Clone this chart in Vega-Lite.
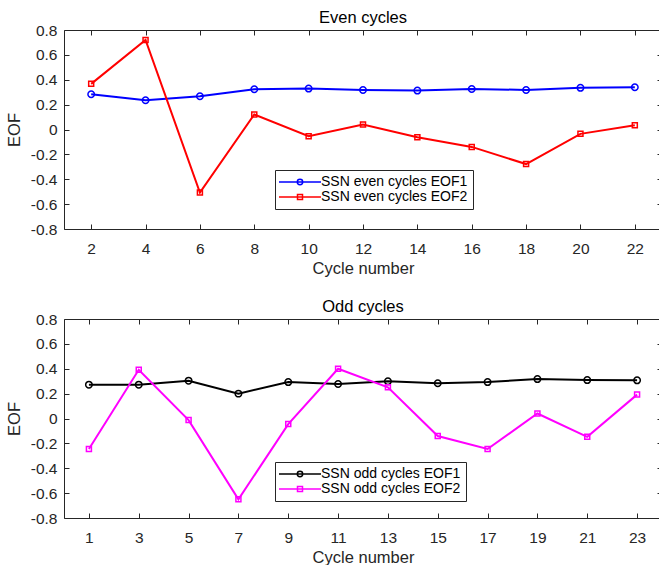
{
  "$schema": "https://vega.github.io/schema/vega-lite/v6.json",
  "background": "white",
  "padding": {"left": 5, "top": 9, "right": 0, "bottom": 0},
  "spacing": 20,
  "config": {
    "font": "Liberation Sans",
    "view": {"stroke": "#262626", "strokeWidth": 1},
    "axis": {
      "domain": false, "grid": false,
      "tickColor": "#262626", "tickSize": -5, "tickWidth": 1,
      "labelColor": "#262626", "labelFontSize": 15.5, "labelFont": "Liberation Sans",
      "titleFontSize": 16.5, "titleFontWeight": "normal", "titleColor": "#262626", "titleFont": "Liberation Sans"
    },
    "title": {"fontSize": 16.5, "fontWeight": "normal", "color": "#000000", "font": "Liberation Sans", "anchor": "middle", "offset": -3},
    "legend": {
      "orient": "none", "title": null,
      "labelFontSize": 14, "labelColor": "#000000", "labelFont": "Liberation Sans", "labelOffset": 14,
      "padding": 5, "rowPadding": 1,
      "strokeColor": "#262626", "fillColor": "white",
      "symbolSize": 100, "symbolOffset": 13, "symbolStrokeWidth": 1.5
    }
  },
  "resolve": {"scale": {"color": "independent", "shape": "independent", "size": "independent", "x": "independent"}, "legend": {"color": "independent"}},
  "datasets": {
    "even": [
      {"cycle": 2, "series": "SSN even cycles EOF1", "value": 0.283},
      {"cycle": 4, "series": "SSN even cycles EOF1", "value": 0.235},
      {"cycle": 6, "series": "SSN even cycles EOF1", "value": 0.267},
      {"cycle": 8, "series": "SSN even cycles EOF1", "value": 0.324},
      {"cycle": 10, "series": "SSN even cycles EOF1", "value": 0.329},
      {"cycle": 12, "series": "SSN even cycles EOF1", "value": 0.318},
      {"cycle": 14, "series": "SSN even cycles EOF1", "value": 0.313},
      {"cycle": 16, "series": "SSN even cycles EOF1", "value": 0.326},
      {"cycle": 18, "series": "SSN even cycles EOF1", "value": 0.318},
      {"cycle": 20, "series": "SSN even cycles EOF1", "value": 0.335},
      {"cycle": 22, "series": "SSN even cycles EOF1", "value": 0.340},
      {"cycle": 2, "series": "SSN even cycles EOF2", "value": 0.367},
      {"cycle": 4, "series": "SSN even cycles EOF2", "value": 0.720},
      {"cycle": 6, "series": "SSN even cycles EOF2", "value": -0.507},
      {"cycle": 8, "series": "SSN even cycles EOF2", "value": 0.121},
      {"cycle": 10, "series": "SSN even cycles EOF2", "value": -0.054},
      {"cycle": 12, "series": "SSN even cycles EOF2", "value": 0.040},
      {"cycle": 14, "series": "SSN even cycles EOF2", "value": -0.062},
      {"cycle": 16, "series": "SSN even cycles EOF2", "value": -0.140},
      {"cycle": 18, "series": "SSN even cycles EOF2", "value": -0.278},
      {"cycle": 20, "series": "SSN even cycles EOF2", "value": -0.035},
      {"cycle": 22, "series": "SSN even cycles EOF2", "value": 0.035}
    ],
    "odd": [
      {"cycle": 1, "series": "SSN odd cycles EOF1", "value": 0.272},
      {"cycle": 3, "series": "SSN odd cycles EOF1", "value": 0.272},
      {"cycle": 5, "series": "SSN odd cycles EOF1", "value": 0.304},
      {"cycle": 7, "series": "SSN odd cycles EOF1", "value": 0.200},
      {"cycle": 9, "series": "SSN odd cycles EOF1", "value": 0.293},
      {"cycle": 11, "series": "SSN odd cycles EOF1", "value": 0.277},
      {"cycle": 13, "series": "SSN odd cycles EOF1", "value": 0.299},
      {"cycle": 15, "series": "SSN odd cycles EOF1", "value": 0.283},
      {"cycle": 17, "series": "SSN odd cycles EOF1", "value": 0.293},
      {"cycle": 19, "series": "SSN odd cycles EOF1", "value": 0.317},
      {"cycle": 21, "series": "SSN odd cycles EOF1", "value": 0.309},
      {"cycle": 23, "series": "SSN odd cycles EOF1", "value": 0.307},
      {"cycle": 1, "series": "SSN odd cycles EOF2", "value": -0.245},
      {"cycle": 3, "series": "SSN odd cycles EOF2", "value": 0.392},
      {"cycle": 5, "series": "SSN odd cycles EOF2", "value": -0.013},
      {"cycle": 7, "series": "SSN odd cycles EOF2", "value": -0.650},
      {"cycle": 9, "series": "SSN odd cycles EOF2", "value": -0.045},
      {"cycle": 11, "series": "SSN odd cycles EOF2", "value": 0.400},
      {"cycle": 13, "series": "SSN odd cycles EOF2", "value": 0.251},
      {"cycle": 15, "series": "SSN odd cycles EOF2", "value": -0.141},
      {"cycle": 17, "series": "SSN odd cycles EOF2", "value": -0.245},
      {"cycle": 19, "series": "SSN odd cycles EOF2", "value": 0.040},
      {"cycle": 21, "series": "SSN odd cycles EOF2", "value": -0.147},
      {"cycle": 23, "series": "SSN odd cycles EOF2", "value": 0.192}
    ]
  },
  "vconcat": [
    {
      "width": 598, "height": 199,
      "title": "Even cycles",
      "data": {"name": "even"},
      "resolve": {"axis": {"x": "independent", "y": "independent"}},
      "layer": [
        {
          "mark": {"type": "line", "strokeWidth": 2},
          "encoding": {
            "x": {"field": "cycle", "type": "quantitative", "scale": {"domain": [1, 23], "nice": false, "zero": false},
                  "axis": {"values": [2,4,6,8,10,12,14,16,18,20,22], "title": "Cycle number", "labelPadding": 17, "titlePadding": 4}},
            "y": {"field": "value", "type": "quantitative", "scale": {"domain": [-0.8, 0.8], "nice": false},
                  "axis": {"values": [-0.8,-0.6,-0.4,-0.2,0,0.2,0.4,0.6,0.8], "labelExpr": "replace(format(datum.value, '.1~f'), '\u2212', '-')", "title": "EOF", "labelPadding": 12, "titlePadding": 8}},
            "color": {"field": "series", "type": "nominal",
                      "scale": {"domain": ["SSN even cycles EOF1", "SSN even cycles EOF2"], "range": ["#0000ff", "#ff0000"]},
                      "legend": {"legendX": 211, "legendY": 140,
                                 "encode": {"symbols": {"update": {
                                   "shape": {"signal": "indexof(datum.value, 'EOF1') >= 0 ? 'M-4.2,0L4.2,0M0.54,0A0.54,0.54,0,1,1,-0.54,0A0.54,0.54,0,1,1,0.54,0' : 'M-4.2,0L4.2,0M-0.5,-0.5L0.5,-0.5L0.5,0.5L-0.5,0.5Z'"},
                                   "fill": {"value": "transparent"},
                                   "strokeWidth": {"value": 1.5}}}}}}
          }
        },
        {
          "mark": {"type": "point", "filled": false, "strokeWidth": 1.5, "opacity": 1},
          "encoding": {
            "x": {"field": "cycle", "type": "quantitative",
                  "axis": {"orient": "top", "values": [2,4,6,8,10,12,14,16,18,20,22], "labels": false, "title": null}},
            "y": {"field": "value", "type": "quantitative",
                  "axis": {"orient": "right", "values": [-0.8,-0.6,-0.4,-0.2,0,0.2,0.4,0.6,0.8], "labels": false, "title": null}},
            "color": {"field": "series", "type": "nominal"},
            "shape": {"field": "series", "type": "nominal", "scale": {"range": ["circle", "square"]}, "legend": null},
            "size": {"field": "series", "type": "nominal", "scale": {"range": [42, 25]}, "legend": null}
          }
        }
      ]
    },
    {
      "width": 598, "height": 199,
      "title": "Odd cycles",
      "data": {"name": "odd"},
      "resolve": {"axis": {"x": "independent", "y": "independent"}},
      "layer": [
        {
          "mark": {"type": "line", "strokeWidth": 2},
          "encoding": {
            "x": {"field": "cycle", "type": "quantitative", "scale": {"domain": [0, 24], "nice": false, "zero": false},
                  "axis": {"values": [1,3,5,7,9,11,13,15,17,19,21,23], "title": "Cycle number", "labelPadding": 17, "titlePadding": 4}},
            "y": {"field": "value", "type": "quantitative", "scale": {"domain": [-0.8, 0.8], "nice": false},
                  "axis": {"values": [-0.8,-0.6,-0.4,-0.2,0,0.2,0.4,0.6,0.8], "labelExpr": "replace(format(datum.value, '.1~f'), '\u2212', '-')", "title": "EOF", "labelPadding": 12, "titlePadding": 8}},
            "color": {"field": "series", "type": "nominal",
                      "scale": {"domain": ["SSN odd cycles EOF1", "SSN odd cycles EOF2"], "range": ["#000000", "#ff00ff"]},
                      "legend": {"legendX": 211, "legendY": 143,
                                 "encode": {"symbols": {"update": {
                                   "shape": {"signal": "indexof(datum.value, 'EOF1') >= 0 ? 'M-4.2,0L4.2,0M0.54,0A0.54,0.54,0,1,1,-0.54,0A0.54,0.54,0,1,1,0.54,0' : 'M-4.2,0L4.2,0M-0.5,-0.5L0.5,-0.5L0.5,0.5L-0.5,0.5Z'"},
                                   "fill": {"value": "transparent"},
                                   "strokeWidth": {"value": 1.5}}}}}}
          }
        },
        {
          "mark": {"type": "point", "filled": false, "strokeWidth": 1.5, "opacity": 1},
          "encoding": {
            "x": {"field": "cycle", "type": "quantitative",
                  "axis": {"orient": "top", "values": [1,3,5,7,9,11,13,15,17,19,21,23], "labels": false, "title": null}},
            "y": {"field": "value", "type": "quantitative",
                  "axis": {"orient": "right", "values": [-0.8,-0.6,-0.4,-0.2,0,0.2,0.4,0.6,0.8], "labels": false, "title": null}},
            "color": {"field": "series", "type": "nominal"},
            "shape": {"field": "series", "type": "nominal", "scale": {"range": ["circle", "square"]}, "legend": null},
            "size": {"field": "series", "type": "nominal", "scale": {"range": [42, 25]}, "legend": null}
          }
        }
      ]
    }
  ]
}
